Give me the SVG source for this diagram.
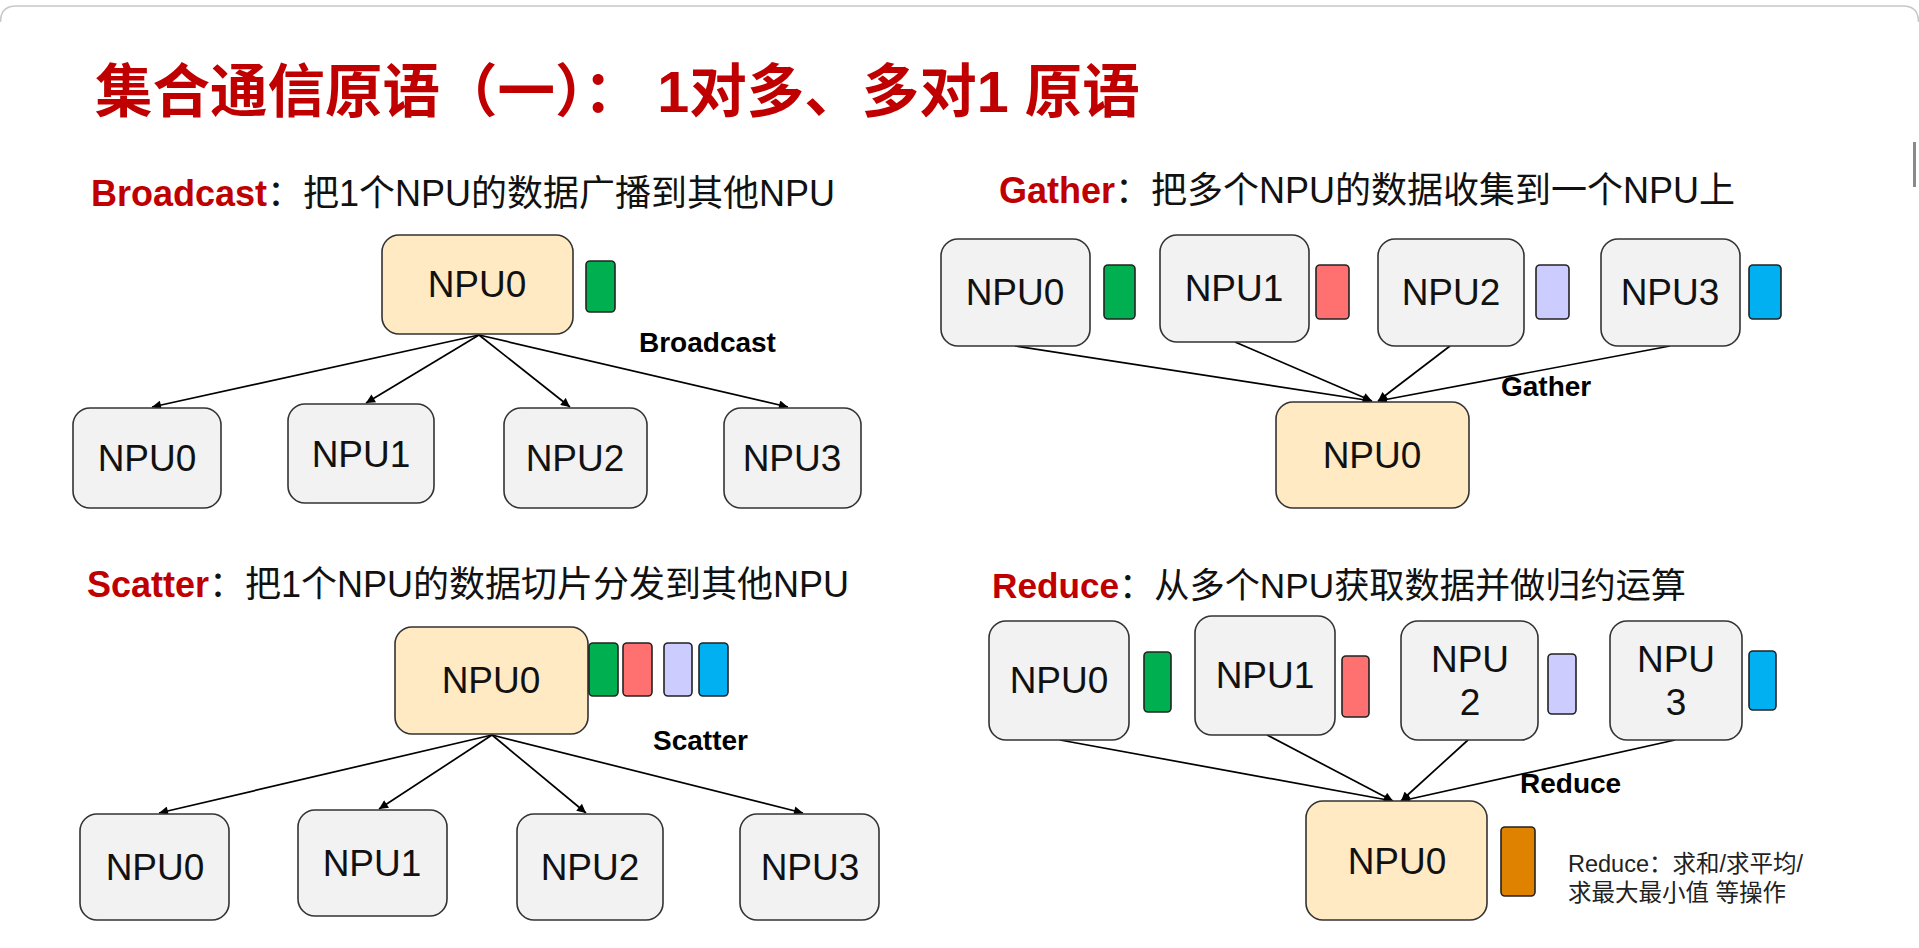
<svg xmlns="http://www.w3.org/2000/svg" width="1919" height="948" viewBox="0 0 1919 948">
<defs>
<marker id="ah" viewBox="0 0 10 10" refX="10" refY="5" markerWidth="10" markerHeight="9" markerUnits="userSpaceOnUse" orient="auto">
<path d="M0,0 L10,5 L0,10 z" fill="#000"/>
</marker>
<style>
.title{font-family:"Liberation Sans","Noto Sans CJK SC",sans-serif;font-weight:bold;font-size:57.5px;fill:#C00000}
.head{font-family:"Liberation Sans","Noto Sans CJK SC",sans-serif;font-size:36px;fill:#111}
.hred{font-weight:bold;fill:#C00000}
.lbl{font-family:"Liberation Sans",sans-serif;font-weight:bold;font-size:28px;fill:#000}
.nt{font-family:"Liberation Sans",sans-serif;font-size:37px;fill:#111;text-anchor:middle}
.note{font-family:"Liberation Sans","Noto Sans CJK SC",sans-serif;font-size:23.5px;fill:#222}
.g{fill:#F2F2F2;stroke:#333;stroke-width:1.6}
.y{fill:#FFEAC4;stroke:#333;stroke-width:1.6}
.blk{stroke:#222;stroke-width:1.6}
.c1{fill:#00B050}.c2{fill:#FF7171}.c3{fill:#CCCCFF}.c4{fill:#00B0F0}.c5{fill:#DF8200}
.ed{stroke:#000;stroke-width:1.7;fill:none;marker-end:url(#ah)}
</style>
</defs>
<rect x="0" y="0" width="1919" height="948" fill="#fff"/>
<path d="M0.5,22 Q0.5,6 16,6 L1903,6 Q1918.5,6 1918.5,22" fill="none" stroke="#c8c8c8" stroke-width="1.5"/>
<rect x="1913" y="142" width="3" height="45" fill="#8a8a8a"/>

<text class="title" x="95" y="112">集合通信原语（一）： 1对多、多对1 原语</text>

<text class="head" x="91" y="206"><tspan class="hred">Broadcast</tspan>：把1个NPU的数据广播到其他NPU</text>
<text class="head" x="999" y="203"><tspan class="hred">Gather</tspan>：把多个NPU的数据收集到一个NPU上</text>
<text class="head" x="87" y="597" font-size="36.3"><tspan class="hred">Scatter</tspan>：把1个NPU的数据切片分发到其他NPU</text>
<text class="head" x="992" y="598" style="font-size:35.2px"><tspan class="hred">Reduce</tspan>：从多个NPU获取数据并做归约运算</text>

<g id="connectors">
<line class="ed" x1="479" y1="335" x2="152" y2="407"/>
<line class="ed" x1="479" y1="335" x2="366" y2="403"/>
<line class="ed" x1="479" y1="335" x2="570" y2="407"/>
<line class="ed" x1="479" y1="335" x2="788" y2="407"/>

<line class="ed" x1="1015" y1="346" x2="1372" y2="401"/>
<line class="ed" x1="1235" y1="342" x2="1372" y2="401"/>
<line class="ed" x1="1450" y1="346" x2="1378" y2="401"/>
<line class="ed" x1="1670" y1="346" x2="1378" y2="401"/>

<line class="ed" x1="492" y1="735" x2="159" y2="813"/>
<line class="ed" x1="492" y1="735" x2="379" y2="809"/>
<line class="ed" x1="492" y1="735" x2="586" y2="813"/>
<line class="ed" x1="492" y1="735" x2="803" y2="813"/>

<line class="ed" x1="1060" y1="740" x2="1393" y2="801"/>
<line class="ed" x1="1267" y1="735" x2="1393" y2="801"/>
<line class="ed" x1="1468" y1="740" x2="1401" y2="801"/>
<line class="ed" x1="1675" y1="740" x2="1401" y2="801"/>
</g>

<!-- Broadcast -->
<g id="bc-src"><rect class="y" x="382" y="235" width="191" height="99" rx="17"/><text class="nt" x="477" y="297">NPU0</text></g>
<g id="bc-data"><rect class="blk c1" x="586" y="261" width="29" height="51" rx="4"/></g>
<g id="bc-label"><text class="lbl" x="639" y="352">Broadcast</text></g>
<g id="bc-n0"><rect class="g" x="73" y="408" width="148" height="100" rx="17"/><text class="nt" x="147" y="471">NPU0</text></g>
<g id="bc-n1"><rect class="g" x="288" y="404" width="146" height="99" rx="17"/><text class="nt" x="361" y="467">NPU1</text></g>
<g id="bc-n2"><rect class="g" x="504" y="408" width="143" height="100" rx="17"/><text class="nt" x="575" y="471">NPU2</text></g>
<g id="bc-n3"><rect class="g" x="724" y="408" width="137" height="100" rx="17"/><text class="nt" x="792" y="471">NPU3</text></g>

<!-- Gather -->
<g id="ga-n0"><rect class="g" x="941" y="239" width="149" height="107" rx="17"/><text class="nt" x="1015" y="305">NPU0</text></g>
<g id="ga-d0"><rect class="blk c1" x="1104" y="265" width="31" height="54" rx="4"/></g>
<g id="ga-n1"><rect class="g" x="1160" y="235" width="149" height="107" rx="17"/><text class="nt" x="1234" y="301">NPU1</text></g>
<g id="ga-d1"><rect class="blk c2" x="1316" y="265" width="33" height="54" rx="4"/></g>
<g id="ga-n2"><rect class="g" x="1378" y="239" width="146" height="107" rx="17"/><text class="nt" x="1451" y="305">NPU2</text></g>
<g id="ga-d2"><rect class="blk c3" x="1536" y="265" width="33" height="54" rx="4"/></g>
<g id="ga-n3"><rect class="g" x="1601" y="239" width="139" height="107" rx="17"/><text class="nt" x="1670" y="305">NPU3</text></g>
<g id="ga-d3"><rect class="blk c4" x="1749" y="265" width="32" height="54" rx="4"/></g>
<g id="ga-label"><text class="lbl" x="1501" y="396">Gather</text></g>
<g id="ga-dst"><rect class="y" x="1276" y="402" width="193" height="106" rx="17"/><text class="nt" x="1372" y="468">NPU0</text></g>

<!-- Scatter -->
<g id="sc-src"><rect class="y" x="395" y="627" width="193" height="107" rx="17"/><text class="nt" x="491" y="693">NPU0</text></g>
<g id="sc-data">
<rect class="blk c1" x="589" y="643" width="29" height="53" rx="4"/>
<rect class="blk c2" x="623" y="643" width="29" height="53" rx="4"/>
<rect class="blk c3" x="664" y="643" width="28" height="53" rx="4"/>
<rect class="blk c4" x="699" y="643" width="29" height="53" rx="4"/>
</g>
<g id="sc-label"><text class="lbl" x="653" y="750">Scatter</text></g>
<g id="sc-n0"><rect class="g" x="80" y="814" width="149" height="106" rx="17"/><text class="nt" x="155" y="880">NPU0</text></g>
<g id="sc-n1"><rect class="g" x="298" y="810" width="149" height="106" rx="17"/><text class="nt" x="372" y="876">NPU1</text></g>
<g id="sc-n2"><rect class="g" x="517" y="814" width="146" height="106" rx="17"/><text class="nt" x="590" y="880">NPU2</text></g>
<g id="sc-n3"><rect class="g" x="740" y="814" width="139" height="106" rx="17"/><text class="nt" x="810" y="880">NPU3</text></g>

<!-- Reduce -->
<g id="rd-n0"><rect class="g" x="989" y="621" width="140" height="119" rx="17"/><text class="nt" x="1059" y="693">NPU0</text></g>
<g id="rd-d0"><rect class="blk c1" x="1144" y="652" width="27" height="60" rx="4"/></g>
<g id="rd-n1"><rect class="g" x="1195" y="616" width="140" height="119" rx="17"/><text class="nt" x="1265" y="688">NPU1</text></g>
<g id="rd-d1"><rect class="blk c2" x="1342" y="656" width="27" height="61" rx="4"/></g>
<g id="rd-n2"><rect class="g" x="1401" y="621" width="137" height="119" rx="17"/><text class="nt" x="1470" y="672">NPU</text><text class="nt" x="1470" y="715">2</text></g>
<g id="rd-d2"><rect class="blk c3" x="1548" y="654" width="28" height="60" rx="4"/></g>
<g id="rd-n3"><rect class="g" x="1610" y="621" width="132" height="119" rx="17"/><text class="nt" x="1676" y="672">NPU</text><text class="nt" x="1676" y="715">3</text></g>
<g id="rd-d3"><rect class="blk c4" x="1749" y="651" width="27" height="59" rx="4"/></g>
<g id="rd-label"><text class="lbl" x="1520" y="793">Reduce</text></g>
<g id="rd-dst"><rect class="y" x="1306" y="801" width="181" height="119" rx="17"/><text class="nt" x="1397" y="874">NPU0</text></g>
<g id="rd-res"><rect class="blk c5" x="1501" y="827" width="34" height="69" rx="4"/></g>
<g id="rd-note">
<text class="note" x="1568" y="872">Reduce：求和/求平均/</text>
<text class="note" x="1568" y="901">求最大最小值 等操作</text>
</g>
</svg>
